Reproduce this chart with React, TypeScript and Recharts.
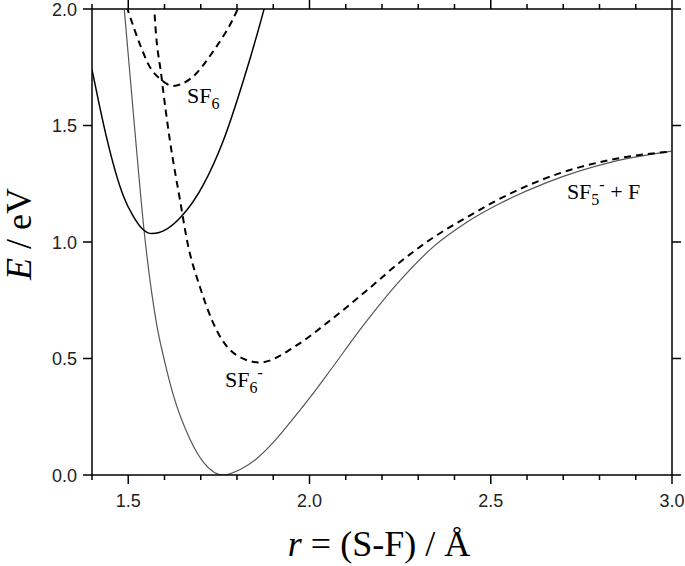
import React from 'react';
import { LineChart, Line, XAxis, YAxis, ReferenceDot, ReferenceLine } from 'recharts';

// r (Å) and E (eV)
const anionGroundR = [1.48, 1.489, 1.517, 1.545, 1.578, 1.6, 1.624, 1.67, 1.71, 1.762, 1.81, 1.854, 1.9, 1.946, 2.0, 2.06, 2.15, 2.25, 2.342, 2.434, 2.525, 2.654, 2.838, 3.0];
const anionGroundE = [2.16, 2.0, 1.5, 1.03, 0.65, 0.49, 0.345, 0.155, 0.05, 0.0, 0.025, 0.07, 0.14, 0.225, 0.33, 0.455, 0.645, 0.835, 0.98, 1.085, 1.165, 1.255, 1.345, 1.39];

const neutralR = [1.4, 1.42, 1.44, 1.465, 1.486, 1.514, 1.54, 1.565, 1.606, 1.647, 1.707, 1.761, 1.817, 1.873, 1.89];
const neutralE = [1.74, 1.59, 1.45, 1.3, 1.2, 1.11, 1.055, 1.036, 1.055, 1.11, 1.245, 1.43, 1.69, 1.99, 2.09];

const neutralExcR = [1.485, 1.5, 1.532, 1.56, 1.588, 1.623, 1.67, 1.735, 1.799, 1.81];
const neutralExcE = [2.06, 1.99, 1.849, 1.75, 1.7, 1.67, 1.699, 1.82, 1.99, 2.03];

const anionExcR = [1.57, 1.572, 1.592, 1.615, 1.643, 1.663, 1.698, 1.744, 1.799, 1.863, 1.965, 2.05, 2.158, 2.25, 2.342, 2.434, 2.506, 2.654, 2.838, 3.0];
const anionExcE = [2.08, 2.0, 1.706, 1.435, 1.178, 1.0, 0.806, 0.621, 0.514, 0.483, 0.557, 0.655, 0.792, 0.914, 1.02, 1.106, 1.17, 1.275, 1.355, 1.389];

const xTicks = [1.4, 1.5, 1.6, 1.7, 1.8, 1.9, 2.0, 2.1, 2.2, 2.3, 2.4, 2.5, 2.6, 2.7, 2.8, 2.9, 3.0];
const yTicks = [0, 0.5, 1.0, 1.5, 2.0];

const zip = (rs: number[], es: number[]) => rs.map((r, i) => ({ r, e: es[i] }));

const xMin = 1.4;
const xMax = 3.0;
const yMin = 0;
const yMax = 2.0;
// plot box is 580 x 466 px, used to turn tick lengths into axis units
const rPerPx = (xMax - xMin) / 580;
const ePerPx = (yMax - yMin) / 466;

const serif = '"Liberation Serif", "Times New Roman", serif';
const sans = '"Liberation Sans", Arial, sans-serif';
const axisStroke = { stroke: '#000', strokeWidth: 1.5 };
const isMajor = (v: number) => Math.abs(v * 2 - Math.round(v * 2)) < 1e-6;

const BottomTick = (props: any) => {
  const { x, y, payload } = props;
  if (!isMajor(payload.value) || payload.value < 1.45) return <g />;
  return (
    <text x={x} y={y + 32} textAnchor="middle" fontFamily={sans} fontSize={18} fill="#222">
      {payload.value.toFixed(1)}
    </text>
  );
};

const LeftTick = (props: any) => {
  const { x, y, payload } = props;
  return (
    <text x={x - 15} y={y + 6.5} textAnchor="end" fontFamily={sans} fontSize={18} fill="#222">
      {payload.value.toFixed(1)}
    </text>
  );
};

const yTitle = (props: any) => {
  const { viewBox } = props;
  const cx = viewBox.x + 31;
  const cy = viewBox.y + viewBox.height / 2 - 8;
  return (
    <text x={cx} y={cy} transform={`rotate(-90 ${cx} ${cy})`} textAnchor="middle" fontFamily={serif} fontSize={36} fill="#000">
      <tspan fontStyle="italic">E</tspan> / eV
    </text>
  );
};

const xTitle = (props: any) => {
  const { viewBox } = props;
  return (
    <text x={viewBox.x + 287} y={viewBox.y + 81} textAnchor="middle" fontFamily={serif} fontSize={36} fill="#000">
      <tspan fontStyle="italic">r</tspan> = (S-F) / Å
    </text>
  );
};

const sf6Label = (props: any) => {
  const { x, y } = props.viewBox;
  return (
    <text x={x} y={y} fontFamily={serif} fontSize={22} fill="#000">
      SF<tspan fontSize={16} dy={6}>6</tspan>
    </text>
  );
};

const sf6AnionLabel = (props: any) => {
  const { x, y } = props.viewBox;
  return (
    <text x={x} y={y} fontFamily={serif} fontSize={22} fill="#000">
      SF<tspan fontSize={16} dy={6}>6</tspan>
      <tspan fontSize={16} dy={-15}>-</tspan>
    </text>
  );
};

const sf5Label = (props: any) => {
  const { x, y } = props.viewBox;
  return (
    <text x={x} y={y} fontFamily={serif} fontSize={22} fill="#000">
      SF<tspan fontSize={16} dy={6}>5</tspan>
      <tspan fontSize={16} dy={-15}>-</tspan>
      <tspan fontSize={22} dy={9}> + F</tspan>
    </text>
  );
};

export default function App() {
  return (
    <div style={{ position: 'absolute', left: 0, top: 0 }}>
      <LineChart width={685} height={566} margin={{ top: 9, right: 13, bottom: 0, left: 0 }}>
        <XAxis
          dataKey="r"
          type="number"
          domain={[xMin, xMax]}
          ticks={xTicks}
          interval={0}
          allowDataOverflow
          height={91}
          tickSize={0}
          tickMargin={0}
          tickLine={false}
          tick={<BottomTick />}
          axisLine={axisStroke}
          label={xTitle}
        />
        <YAxis
          type="number"
          domain={[yMin, yMax]}
          ticks={yTicks}
          interval={0}
          allowDataOverflow
          width={92}
          tickSize={0}
          tickMargin={0}
          tickLine={false}
          tick={<LeftTick />}
          axisLine={axisStroke}
          label={yTitle}
        />
        {/* frame: top and right */}
        <ReferenceLine y={yMax} stroke="#000" strokeWidth={1.5} ifOverflow="visible" />
        <ReferenceLine x={xMax} stroke="#000" strokeWidth={1.5} ifOverflow="visible" />
        {/* tick marks, outward on all four sides */}
        {xTicks.map((t) => {
          const len = isMajor(t) ? 9 : 5;
          return (
            <ReferenceLine
              key={`b${t}`}
              segment={[{ x: t, y: yMin }, { x: t, y: yMin - len * ePerPx }]}
              stroke="#000"
              strokeWidth={1.5}
              ifOverflow="visible"
            />
          );
        })}
        {xTicks.map((t) => {
          const len = isMajor(t) ? 9 : 5;
          return (
            <ReferenceLine
              key={`t${t}`}
              segment={[{ x: t, y: yMax }, { x: t, y: yMax + len * ePerPx }]}
              stroke="#000"
              strokeWidth={1.5}
              ifOverflow="visible"
            />
          );
        })}
        {yTicks.map((t) => (
          <ReferenceLine
            key={`l${t}`}
            segment={[{ x: xMin, y: t }, { x: xMin - 9 * rPerPx, y: t }]}
            stroke="#000"
            strokeWidth={1.5}
            ifOverflow="visible"
          />
        ))}
        {yTicks.map((t) => (
          <ReferenceLine
            key={`r${t}`}
            segment={[{ x: xMax, y: t }, { x: xMax + 9 * rPerPx, y: t }]}
            stroke="#000"
            strokeWidth={1.5}
            ifOverflow="visible"
          />
        ))}
        <Line data={zip(anionGroundR, anionGroundE)} dataKey="e" type="monotone" stroke="#555" strokeWidth={1.2} dot={false} isAnimationActive={false} />
        <Line data={zip(neutralR, neutralE)} dataKey="e" type="monotone" stroke="#000" strokeWidth={1.5} dot={false} isAnimationActive={false} />
        <Line data={zip(neutralExcR, neutralExcE)} dataKey="e" type="monotone" stroke="#000" strokeWidth={2} strokeDasharray="7 5" dot={false} isAnimationActive={false} />
        <Line data={zip(anionExcR, anionExcE)} dataKey="e" type="monotone" stroke="#000" strokeWidth={2} strokeDasharray="7 5" dot={false} isAnimationActive={false} />
        <ReferenceDot x={1.662} y={1.597} r={0} fill="none" stroke="none" label={sf6Label} />
        <ReferenceDot x={1.767} y={0.377} r={0} fill="none" stroke="none" label={sf6AnionLabel} />
        <ReferenceDot x={2.71} y={1.186} r={0} fill="none" stroke="none" label={sf5Label} />
      </LineChart>
    </div>
  );
}
